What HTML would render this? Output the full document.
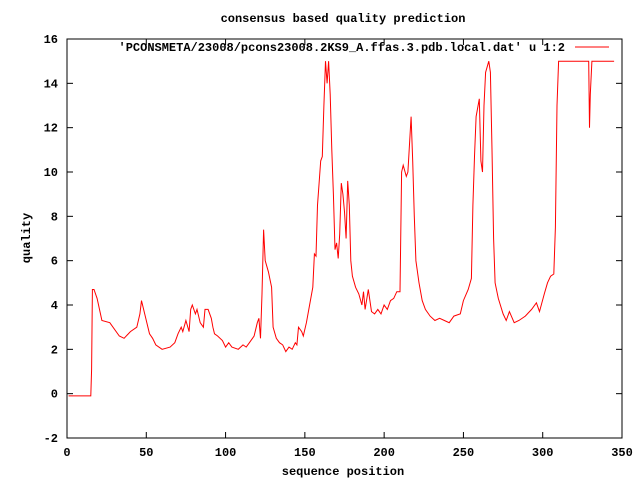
<!DOCTYPE html>
<html><head><meta charset="utf-8"><style>
body{margin:0;background:#fff}
svg text{font-family:"Liberation Mono",monospace;font-size:12px;font-weight:bold;fill:#000}
</style></head><body>
<svg width="640" height="480" xmlns="http://www.w3.org/2000/svg">
<rect width="640" height="480" fill="#fff"/>
<text x="343" y="22" text-anchor="middle">consensus based quality prediction</text>
<g id="ticks"></g>
<rect x="67" y="39" width="555" height="399" fill="none" stroke="#000"/>
<text x="565" y="51" text-anchor="end">'PCONSMETA/23008/pcons23008.2KS9_A.ffas.3.pdb.local.dat' u 1:2</text>
<line x1="575" y1="47" x2="609" y2="47" stroke="#f00"/>
<text x="343" y="475" text-anchor="middle">sequence position</text>
<text transform="translate(30,238) rotate(-90)" text-anchor="middle">quality</text>
<polyline id="series" fill="none" stroke="#f00" stroke-width="1"/>
</svg>
<script>
const xTicks=[0,50,100,150,200,250,300,350];
const yTicks=[-2,0,2,4,6,8,10,12,14,16];
const xs=[1,15,15.5,16,17,19,22,27,33,36,40,44,46,47,49,52,54,56,60,65,68,70,72,73,75,77,78,79,81,82,84,86,87,89,91,92,93,95,98,100,102,104,108,111,113,115,117,118,120,121,122,123,124,125,127,129,130,132,134,136,138,140,142,144,145,146,148,149,151,153,155,156,157,158,159,160,161,162,163,164,165,166,167,168,169,170,171,172,173,174,175,176,177,178,179,180,182,184,186,187,188,190,192,194,196,198,200,202,204,206,208,210,211,212,214,215,217,218,219,220,222,224,226,229,232,235,238,241,244,248,250,253,255,256,257,258,260,261,262,263,264,266,267,268,269,270,272,275,277,279,282,285,289,293,296,298,301,303,305,307,308,309,310,329,329.5,330,331,345];
const ys=[-0.1,-0.1,1.1,4.7,4.7,4.3,3.3,3.2,2.6,2.5,2.8,3.0,3.6,4.2,3.6,2.7,2.5,2.2,2.0,2.1,2.3,2.7,3.0,2.8,3.3,2.8,3.8,4.0,3.6,3.8,3.2,3.0,3.8,3.8,3.4,3.0,2.7,2.6,2.4,2.1,2.3,2.1,2.0,2.2,2.1,2.3,2.5,2.6,3.2,3.4,2.5,4.5,7.4,6.0,5.5,4.8,3.0,2.5,2.3,2.2,1.9,2.1,2.0,2.3,2.2,3.0,2.8,2.6,3.2,4.0,4.8,6.3,6.2,8.5,9.5,10.5,10.7,13.0,15.0,14.0,15.0,13.5,11.0,9.0,6.5,6.8,6.1,7.2,9.5,9.0,8.2,7.0,9.6,8.5,6.0,5.3,4.8,4.5,4.0,4.6,3.8,4.7,3.7,3.6,3.8,3.6,4.0,3.8,4.2,4.3,4.6,4.6,10.0,10.3,9.8,10.0,12.5,10.5,8.0,6.0,5.0,4.2,3.8,3.5,3.3,3.4,3.3,3.2,3.5,3.6,4.2,4.7,5.2,8.5,10.7,12.5,13.3,10.5,10.0,13.0,14.5,15.0,14.5,11.0,7.0,5.0,4.3,3.6,3.3,3.7,3.2,3.3,3.5,3.8,4.1,3.7,4.5,5.0,5.3,5.4,7.5,13.0,15.0,15.0,12.0,13.5,15.0,15.0];
const L=67,R=622,T=39,B=438;
function sx(v){return L+(v-0)/(350-0)*(R-L);}
function sy(v){return B-(v+2)/(16+2)*(B-T);}
const NS="http://www.w3.org/2000/svg";
const g=document.getElementById('ticks');
function mk(tag,attrs,parent){const e=document.createElementNS(NS,tag);for(const k in attrs)e.setAttribute(k,attrs[k]);parent.appendChild(e);return e;}
xTicks.forEach(t=>{const x=sx(t);
 const a=mk('line',{x1:x,y1:B,x2:x,y2:B-6,stroke:'#000'},g);
 
 
 const b=mk('line',{x1:x,y1:T,x2:x,y2:T+6,stroke:'#000'},g);
 
 
 const tx=mk('text',{x:x,y:B+18,'text-anchor':'middle'},g);tx.textContent=t;
 
 });
yTicks.forEach(t=>{const y=sy(t);
 const a=mk('line',{x1:L,y1:y,x2:L+6,y2:y,stroke:'#000'},g);
 
 
 const b=mk('line',{x1:R,y1:y,x2:R-6,y2:y,stroke:'#000'},g);
 
 
 const tx=mk('text',{x:L-9,y:y+4,'text-anchor':'end'},g);tx.textContent=t;
 
 });
document.getElementById('series').setAttribute('points',xs.map((x,i)=>sx(x).toFixed(1)+','+sy(ys[i]).toFixed(1)).join(' '));
</script>
</body></html>
